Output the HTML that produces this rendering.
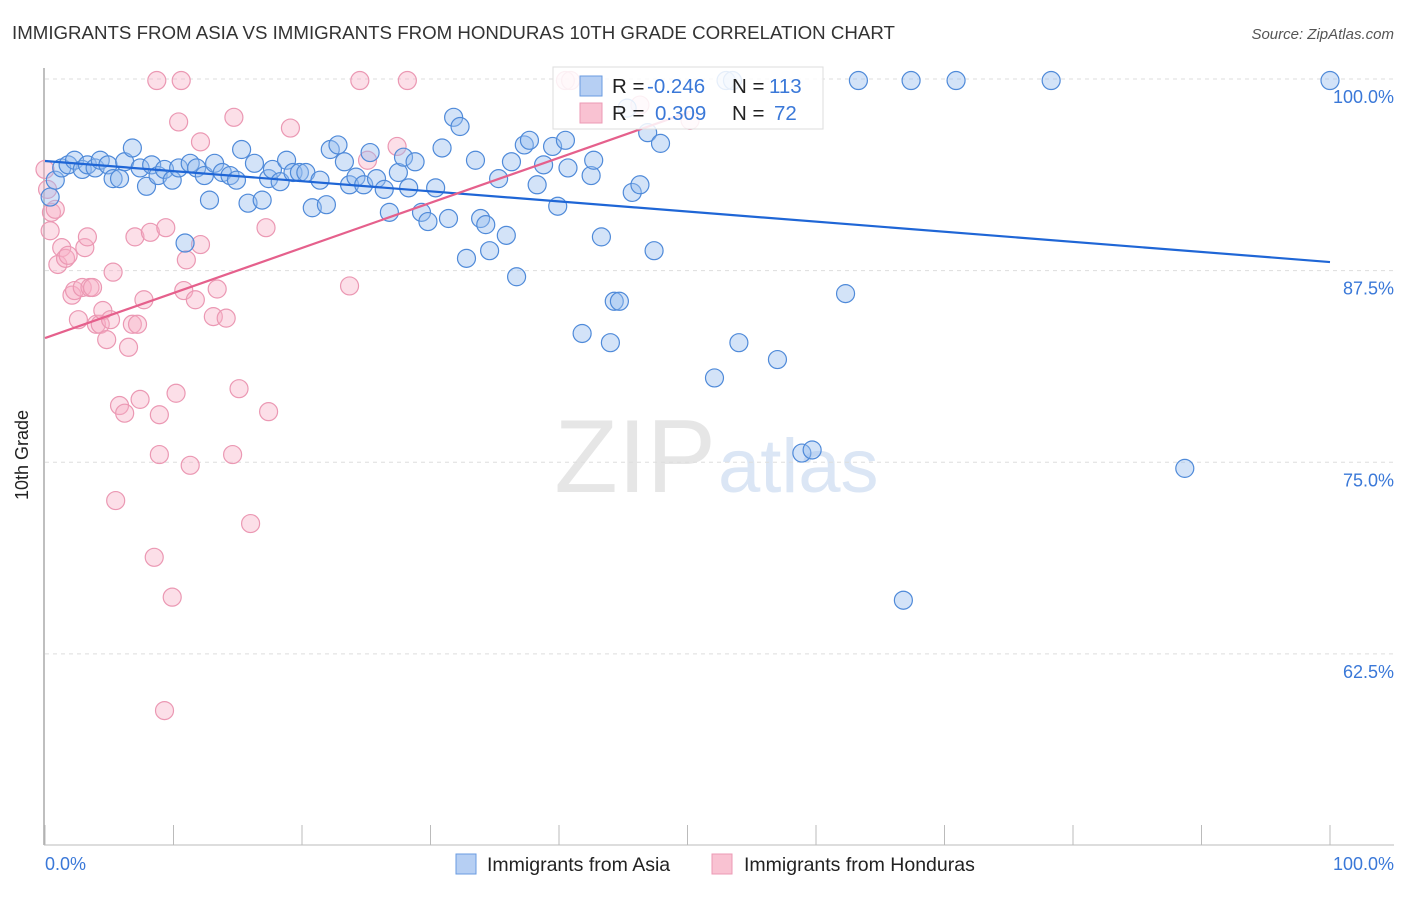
<!DOCTYPE html>
<html><head><meta charset="utf-8"><style>
body{margin:0;background:#fff;font-family:"Liberation Sans",sans-serif;}
svg text{font-family:"Liberation Sans",sans-serif;}
</style></head><body>
<svg width="1406" height="892" viewBox="0 0 1406 892" id="chart">
<text x="12" y="39" font-size="18.7" fill="#333">IMMIGRANTS FROM ASIA VS IMMIGRANTS FROM HONDURAS 10TH GRADE CORRELATION CHART</text>
<text x="1394" y="39" font-size="15" fill="#555" text-anchor="end" font-style="italic">Source: ZipAtlas.com</text>
<text x="716" y="492" font-size="104" fill="#e6e6e6" text-anchor="end" font-family="Liberation Serif">ZIP</text>
<text x="718" y="492" font-size="76" fill="#dbe6f5">atlas</text>
<g id="grid"></g>
<line x1="44" y1="68" x2="44" y2="845" stroke="#aaa" stroke-width="1.5"/>
<line x1="44" y1="845" x2="1394" y2="845" stroke="#bbb" stroke-width="1"/>
<g id="xticks"></g>
<text x="28" y="455" font-size="18" fill="#222" text-anchor="middle" transform="rotate(-90 28 455)">10th Grade</text>
<text x="45" y="870" font-size="18" fill="#3a78d8">0.0%</text>
<text x="1394" y="870" font-size="18" fill="#3a78d8" text-anchor="end">100.0%</text>
<g id="points"></g>
<g id="lines"></g>
<g>
<rect x="553" y="67" width="270" height="62" fill="#fff" fill-opacity="0.85" stroke="#ddd"/>
<rect x="580" y="76" width="22" height="20" fill="#b6cff3" stroke="#6a9be0"/>
<rect x="580" y="103" width="22" height="20" fill="#f9c2d2" stroke="#ec9ab4"/>
<text x="612" y="93" font-size="20.5" fill="#222">R = <tspan fill="#3a78d8" x="647">-0.246</tspan></text>
<text x="732" y="93" font-size="20.5" fill="#222">N = <tspan fill="#3a78d8" x="769">113</tspan></text>
<text x="612" y="120" font-size="20.5" fill="#222">R = <tspan fill="#3a78d8" x="655">0.309</tspan></text>
<text x="732" y="120" font-size="20.5" fill="#222">N = <tspan fill="#3a78d8" x="774">72</tspan></text>
</g>
<g>
<rect x="456" y="854" width="20" height="20" fill="#b6cff3" stroke="#6a9be0"/>
<text x="487" y="871" font-size="19.5" fill="#222">Immigrants from Asia</text>
</g>
<g>
<rect x="712" y="854" width="20" height="20" fill="#f9c2d2" stroke="#ec9ab4"/>
<text x="744" y="871" font-size="19.5" fill="#222">Immigrants from Honduras</text>
</g>
</svg>
<script>
const yTicks=[100,87.5,75,62.5];
const yTickLabels=["100.0%","87.5%","75.0%","62.5%"];
const xTickVals=[0,10,20,30,40,50,60,70,80,90,100];
const asiaX=[0.4,0.8,1.3,1.8,2.3,2.9,3.3,3.9,4.3,4.9,5.3,5.8,6.2,6.8,7.4,7.9,8.3,8.8,9.3,9.9,10.4,10.9,11.3,11.8,12.4,12.8,13.2,13.8,14.4,14.9,15.3,15.8,16.3,16.9,17.4,17.7,18.3,18.8,19.3,19.8,20.3,20.8,21.4,21.9,22.2,22.8,23.3,23.7,24.2,24.8,25.3,25.8,26.4,26.8,27.5,27.9,28.3,28.8,29.3,29.8,30.4,30.9,31.4,31.8,32.3,32.8,33.5,33.9,34.3,34.6,35.3,35.9,36.3,36.7,37.3,37.7,38.3,38.8,39.5,39.9,40.5,40.7,41.8,42.5,42.7,43.3,44.0,44.3,44.7,45.3,45.7,46.3,46.9,47.4,47.9,52.1,53.0,53.5,54.0,57.0,58.9,59.7,62.3,63.3,66.8,67.4,70.9,78.3,88.7,100];
const asiaY=[92.3,93.4,94.2,94.4,94.7,94.1,94.4,94.2,94.7,94.4,93.5,93.5,94.6,95.5,94.2,93.0,94.4,93.7,94.1,93.4,94.2,89.3,94.5,94.2,93.7,92.1,94.5,93.9,93.7,93.4,95.4,91.9,94.5,92.1,93.5,94.1,93.3,94.7,93.9,93.9,93.9,91.6,93.4,91.8,95.4,95.7,94.6,93.1,93.6,93.1,95.2,93.5,92.8,91.3,93.9,94.9,92.9,94.6,91.3,90.7,92.9,95.5,90.9,97.5,96.9,88.3,94.7,90.9,90.5,88.8,93.5,89.8,94.6,87.1,95.7,96.0,93.1,94.4,95.6,91.7,96.0,94.2,83.4,93.7,94.7,89.7,82.8,85.5,85.5,98.1,92.6,93.1,96.5,88.8,95.8,80.5,99.9,99.9,82.8,81.7,75.6,75.8,86.0,99.9,66.0,99.9,99.9,99.9,74.6,99.9];
const hondX=[0.4,0.5,0.8,0.2,0,1.0,1.3,1.6,1.8,2.1,2.3,2.6,2.9,3.1,3.3,3.5,3.7,4.0,4.3,4.5,4.8,5.1,5.3,5.5,5.8,6.2,6.5,6.8,7.0,7.2,7.4,7.7,8.2,8.5,8.7,8.9,8.9,9.4,9.9,10.2,10.4,10.6,10.8,11.0,11.3,11.7,12.1,12.1,13.1,13.4,14.1,14.6,14.7,15.1,16.0,17.2,17.4,19.1,23.7,24.5,25.1,27.4,28.2,9.3,40.5,40.9,46.3,50.2];
const hondY=[90.1,91.3,91.5,92.8,94.1,87.9,89.0,88.3,88.5,85.9,86.2,84.3,86.4,89.0,89.7,86.4,86.4,84.0,84.0,84.9,83.0,84.3,87.4,72.5,78.7,78.2,82.5,84.0,89.7,84.0,79.1,85.6,90.0,68.8,99.9,78.1,75.5,90.3,66.2,79.5,97.2,99.9,86.2,88.2,74.8,85.6,89.2,95.9,84.5,86.3,84.4,75.5,97.5,79.8,71.0,90.3,78.3,96.8,86.5,99.9,94.7,95.6,99.9,58.8,99.9,99.9,98.3,97.3];
const asiaTrend=[[0,94.65],[100,88.06]];
const hondTrend=[[0,83.1],[50,97.8]];
const NS="http://www.w3.org/2000/svg";
const xs=v=>45+v*12.85;
const ys=v=>79+(100-v)*15.33;
function mk(tag,attrs,parent){const e=document.createElementNS(NS,tag);for(const k in attrs)e.setAttribute(k,attrs[k]);parent.appendChild(e);return e;}
const grid=document.getElementById('grid');
yTicks.forEach((t,i)=>{
  const l=mk('line',{x1:45,x2:1394,y1:ys(t),y2:ys(t),stroke:'#ddd','stroke-dasharray':'4,4'},grid);
  
  
  const tx=mk('text',{x:1394,y:ys(t)+24,'font-size':18,fill:'#3a78d8','text-anchor':'end'},grid);
  tx.textContent=yTickLabels[i];
  
  
});
const xt=document.getElementById('xticks');
xTickVals.forEach(v=>{
  const l=mk('line',{x1:xs(v),x2:xs(v),y1:825,y2:845,stroke:'#bbb'},xt);
  
  
});
const pts=document.getElementById('points');
hondX.forEach((x,i)=>{
  const c=mk('circle',{cx:xs(x),cy:ys(hondY[i]),r:9,fill:'rgba(248,175,198,0.4)',stroke:'#eb98b3','stroke-width':1.2},pts);
  
  
});
asiaX.forEach((x,i)=>{
  const c=mk('circle',{cx:xs(x),cy:ys(asiaY[i]),r:9,fill:'rgba(150,188,238,0.42)',stroke:'#4f8ad9','stroke-width':1.2},pts);
  
  
});
const ln=document.getElementById('lines');
const a=mk('line',{x1:xs(asiaTrend[0][0]),y1:ys(asiaTrend[0][1]),x2:xs(asiaTrend[1][0]),y2:ys(asiaTrend[1][1]),stroke:'#1f66d6','stroke-width':2.2},ln);


const h=mk('line',{x1:xs(hondTrend[0][0]),y1:ys(hondTrend[0][1]),x2:xs(hondTrend[1][0]),y2:ys(hondTrend[1][1]),stroke:'#e5608c','stroke-width':2.2},ln);


</script>
</body></html>
